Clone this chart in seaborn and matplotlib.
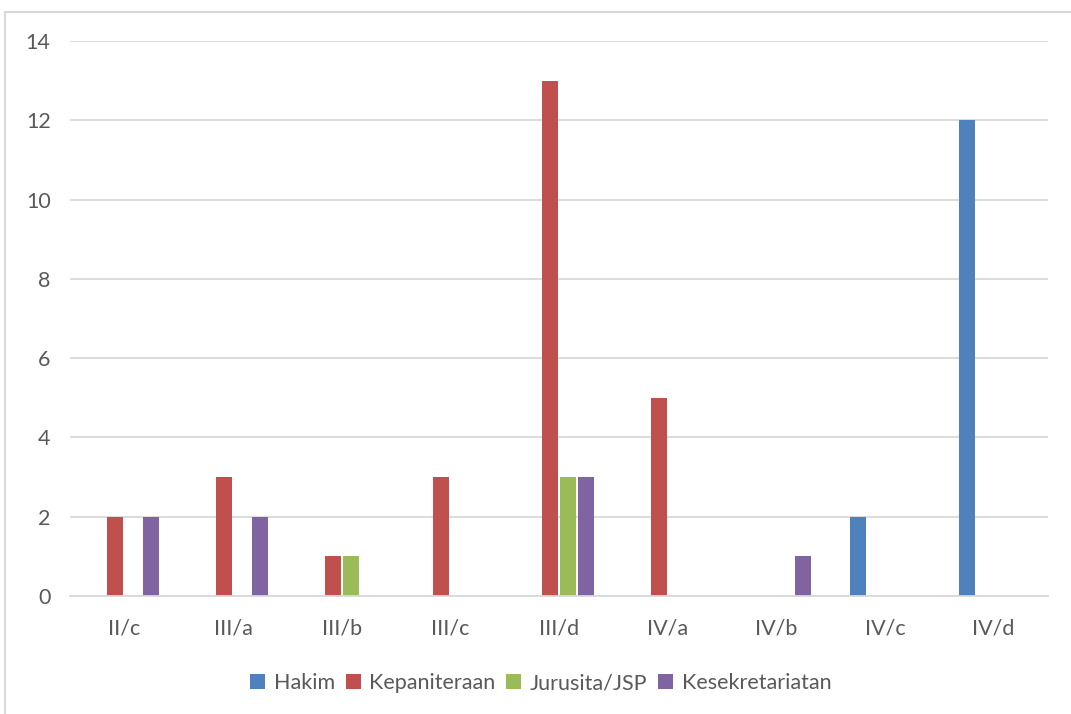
import numpy as np
import pandas as pd
import matplotlib
matplotlib.use("Agg")
import matplotlib.pyplot as plt
from matplotlib.patches import Rectangle
import seaborn as sns

golongan = ["II/c", "III/a", "III/b", "III/c", "III/d", "IV/a", "IV/b", "IV/c", "IV/d"]
hakim = [0, 0, 0, 0, 0, 0, 0, 2, 12]
kepaniteraan = [2, 3, 1, 3, 13, 5, 0, 0, 0]
jurusita = [0, 0, 1, 0, 3, 0, 0, 0, 0]
kesekretariatan = [2, 2, 0, 0, 3, 0, 1, 0, 0]
series_names = ["Hakim", "Kepaniteraan", "Jurusita/JSP", "Kesekretariatan"]
colors = ["#4F81BD", "#C0504D", "#9BBB59", "#8064A2"]

rows = []
for name, vals in zip(series_names, [hakim, kepaniteraan, jurusita, kesekretariatan]):
    for g, v in zip(golongan, vals):
        rows.append({"golongan": g, "bagian": name, "jumlah": v})
df = pd.DataFrame(rows)

sns.set_theme(style="white")
plt.rcParams["font.family"] = ["Lato", "DejaVu Sans"]
text_color = "#595959"
grid_color = "#d9d9d9"

fig = plt.figure(figsize=(10.71, 7.14), dpi=100)
ax = fig.add_axes([0.0654, 0.1653, 0.9131, 0.7773])

# chart frame
fig.patches.append(Rectangle((5 / 1071, -0.05), 1.1, 1 - 12 / 714 + 0.05,
                             transform=fig.transFigure, fill=False,
                             edgecolor=grid_color, lw=1.5, zorder=0))

sns.barplot(data=df, x="golongan", y="jumlah", hue="bagian",
            order=golongan, hue_order=series_names, palette=colors,
            width=0.66, gap=0.1, linewidth=0, saturation=1, ax=ax)

ax.set_ylim(0, 14)
ax.set_yticks(range(0, 15, 2))
ax.set_xlim(-0.5, len(golongan) - 0.5)
ax.yaxis.grid(True, color=grid_color, lw=1.3)
ax.set_axisbelow(True)
for s in ["top", "right", "left"]:
    ax.spines[s].set_visible(False)
ax.spines["bottom"].set_color(grid_color)
ax.spines["bottom"].set_linewidth(1.3)
ax.tick_params(axis="both", length=0, labelsize=15.5, labelcolor=text_color)
ax.tick_params(axis="x", pad=16)
ax.tick_params(axis="y", pad=14)
ax.set_xlabel("")
ax.set_ylabel("")

handles, labels = ax.get_legend_handles_labels()
ax.legend_.remove()
fig.legend(handles, labels, loc="center", bbox_to_anchor=(0.505, 0.043),
           ncol=4, frameon=False, fontsize=15.5, labelcolor=text_color,
           handlelength=0.7, handleheight=0.7, handletextpad=0.4,
           columnspacing=0.5)

fig.savefig("out.png", dpi=100, facecolor="white")
